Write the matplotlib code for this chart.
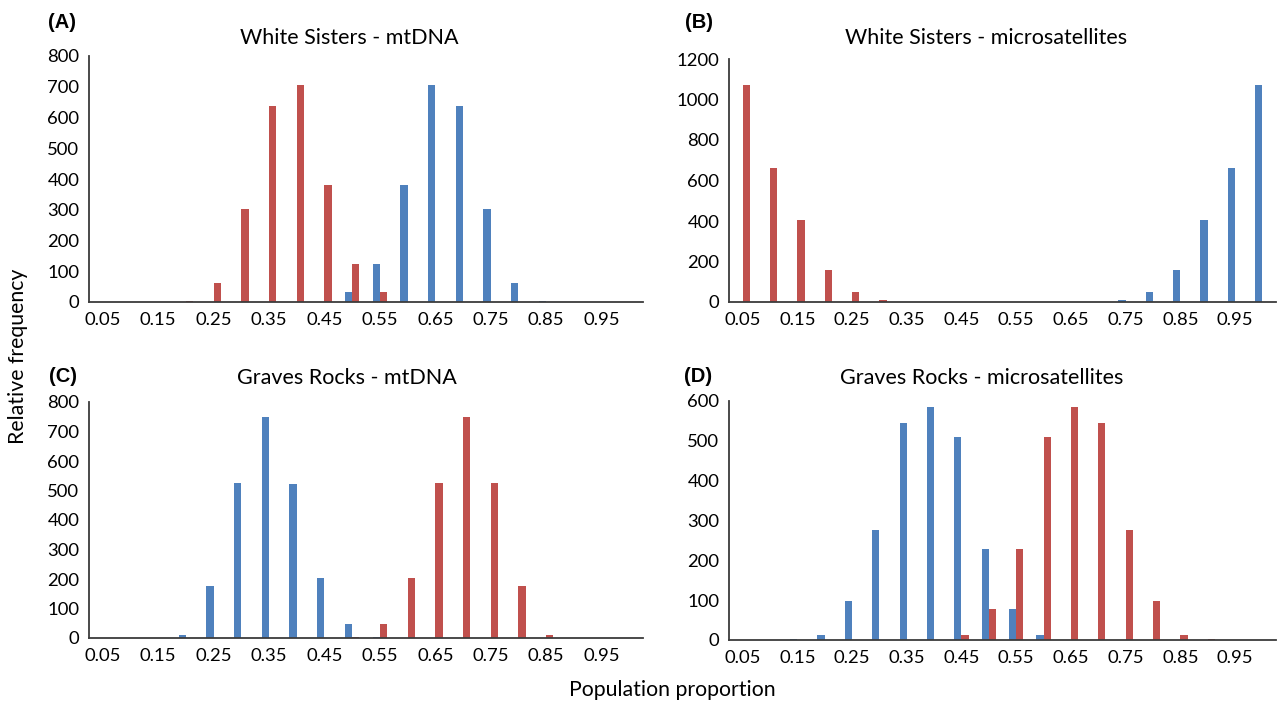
import matplotlib
matplotlib.use("Agg")
import matplotlib.pyplot as plt
import numpy as np

plt.rcParams['font.family'] = ['Lato', 'DejaVu Sans']

categories = [0.05, 0.10, 0.15, 0.20, 0.25, 0.30, 0.35, 0.40, 0.45, 0.50,
              0.55, 0.60, 0.65, 0.70, 0.75, 0.80, 0.85, 0.90, 0.95, 1.00]
tick_labels = ['0.05', '0.15', '0.25', '0.35', '0.45', '0.55', '0.65', '0.75', '0.85', '0.95']

# Panel A: White Sisters - mtDNA
a_blue = [0, 0, 0, 0, 0, 0, 0, 0, 1, 31, 124, 379, 706, 637, 304, 63, 4, 0, 0, 0]
a_red = [0, 0, 0, 4, 63, 304, 637, 706, 379, 124, 31, 1, 0, 0, 0, 0, 0, 0, 0, 0]
# Panel B: White Sisters - microsatellites
b_blue = [0, 0, 0, 0, 0, 0, 0, 0, 0, 0, 0, 0, 0, 1, 8, 51, 158, 403, 661, 1070]
b_red = [1070, 661, 403, 158, 51, 8, 1, 0, 0, 0, 0, 0, 0, 0, 0, 0, 0, 0, 0, 0]
# Panel C: Graves Rocks - mtDNA
c_blue = [0, 0, 1, 11, 176, 527, 749, 523, 203, 48, 3, 0, 0, 0, 0, 0, 0, 0, 0, 0]
c_red = [0, 0, 0, 0, 0, 0, 0, 0, 0, 3, 48, 203, 524, 748, 527, 176, 11, 1, 0, 0]
# Panel D: Graves Rocks - microsatellites
d_blue = [0, 0, 2, 12, 99, 276, 544, 586, 510, 228, 79, 13, 1, 0, 0, 0, 0, 0, 0, 0]
d_red = [0, 0, 0, 0, 0, 0, 0, 1, 13, 79, 228, 510, 586, 544, 276, 99, 12, 2, 0, 0]

titles = ['White Sisters - mtDNA', 'White Sisters - microsatellites',
          'Graves Rocks - mtDNA', 'Graves Rocks - microsatellites']
panel_letters = ['(A)', '(B)', '(C)', '(D)']
y_maxes = [800, 1200, 800, 600]
y_steps = [100, 200, 100, 100]

BLUE = '#4F81BD'
RED = '#C0504D'
AXCOL = '#3c3c3c'

W, H = 1279, 701
fig = plt.figure(figsize=(W / 100, H / 100), dpi=100)

# axes boxes in pixels: left, right, top, bottom
boxes = [(89, 643, 56, 302), (729, 1276, 59, 302),
         (89, 643, 402, 638), (729, 1276, 401, 640)]
title_pos = [(349, 38), (986, 38), (347, 378), (982, 378)]
letter_pos = [(48, 23), (685, 23), (49, 377), (684, 377)]

series = [(a_blue, a_red), (b_blue, b_red), (c_blue, c_red), (d_blue, d_red)]

n = len(categories)
x = np.arange(n) + 0.5
bw = 0.265

for i in range(4):
    l, r, t, b = boxes[i]
    ax = fig.add_axes([l / W, 1 - b / H, (r - l) / W, (b - t) / H])
    blue, red = series[i]
    ax.bar(x - bw / 2, blue, width=bw, color=BLUE, linewidth=0)
    ax.bar(x + bw / 2, red, width=bw, color=RED, linewidth=0)
    ax.set_xlim(0, n)
    ax.set_ylim(0, y_maxes[i])
    ax.set_yticks(np.arange(0, y_maxes[i] + 1, y_steps[i]))
    ax.set_xticks(x[::2])
    ax.set_xticklabels(tick_labels)
    for s in ['top', 'right']:
        ax.spines[s].set_visible(False)
    for s in ['left', 'bottom']:
        ax.spines[s].set_color(AXCOL)
        ax.spines[s].set_linewidth(1.3)
    ax.tick_params(axis='both', length=0, labelsize=13.3, colors='black')
    ax.tick_params(axis='y', pad=7)
    ax.tick_params(axis='x', pad=7)
    tx, ty = title_pos[i]
    fig.text(tx / W, 1 - ty / H, titles[i], ha='center', va='center', fontsize=15.5)
    lx, ly = letter_pos[i]
    fig.text(lx / W, 1 - ly / H, panel_letters[i], ha='left', va='center',
             fontsize=14.5, fontweight='bold', family=['Liberation Sans', 'DejaVu Sans'])

fig.text(672 / W, 1 - 690 / H, 'Population proportion', ha='center', va='center', fontsize=15.3)
fig.text(18 / W, 1 - 356 / H, 'Relative frequency', ha='center', va='center',
         rotation=90, fontsize=15.3)

fig.savefig('out.png', dpi=100)
